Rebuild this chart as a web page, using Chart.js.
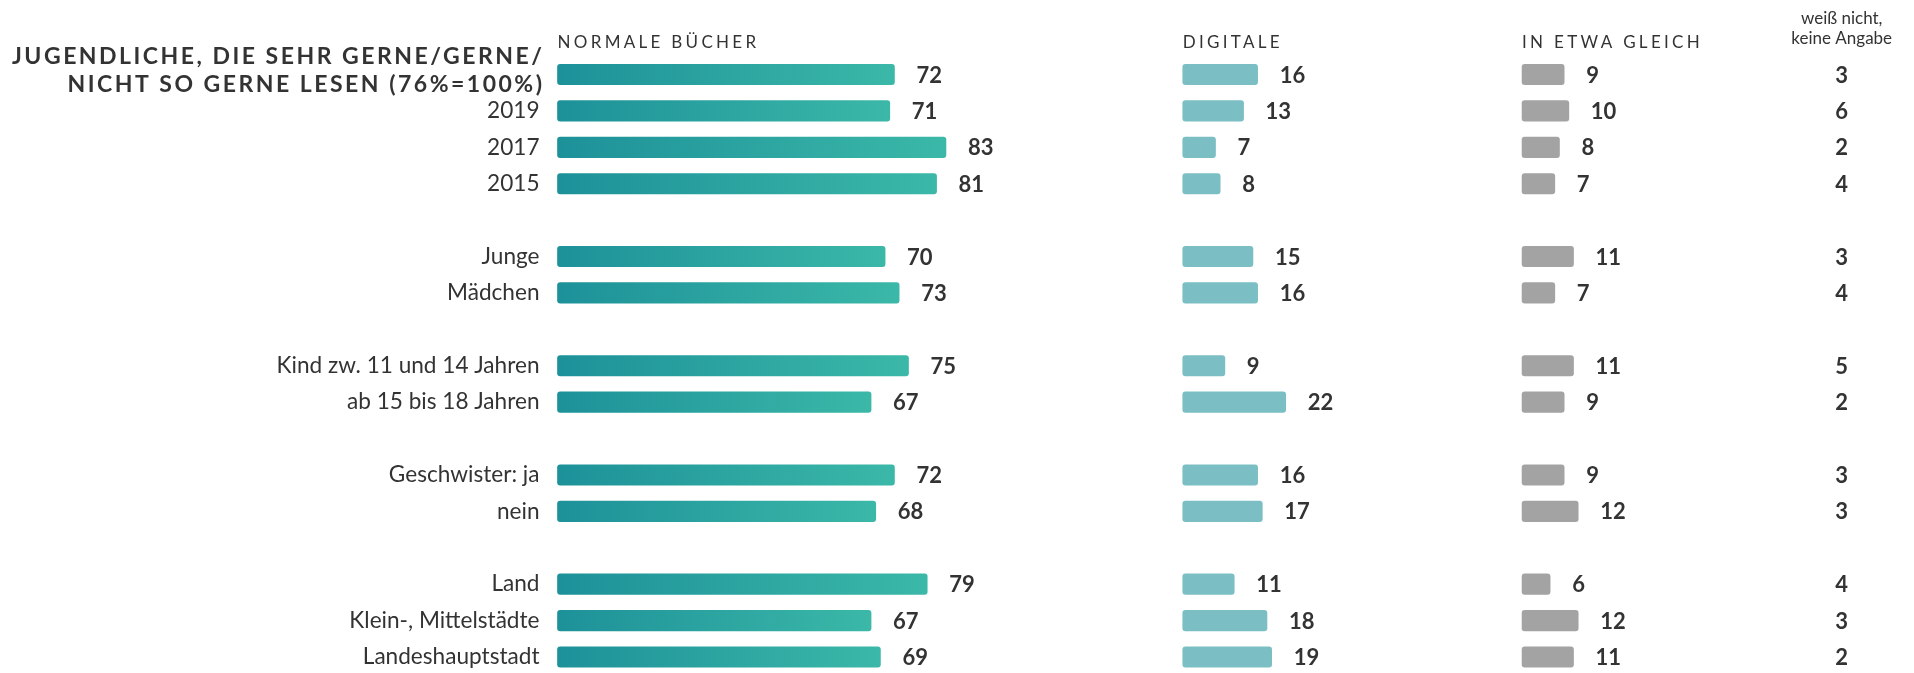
<!DOCTYPE html>
<html>
<head>
<meta charset="utf-8">
<script src="https://cdn.jsdelivr.net/npm/chart.js@4.4.1/dist/chart.umd.min.js"></script>
<style>
  html, body { margin: 0; padding: 0; background: #fff; }
  #wrap { width: 1914px; height: 673px; }
</style>
</head>
<body>
<div id="wrap"><canvas id="c" width="1914" height="673"></canvas></div>
<script>
  // rows ('' = spacer between groups)
  const CATEGORIES = [
    'JUGENDLICHE', '2019', '2017', '2015', '',
    'Junge', 'Mädchen', '',
    'Kind zw. 11 und 14 Jahren', 'ab 15 bis 18 Jahren', '',
    'Geschwister: ja', 'nein', '',
    'Land', 'Klein-, Mittelstädte', 'Landeshauptstadt',
  ];
  const TITLE_LINES = ['JUGENDLICHE, DIE SEHR GERNE/GERNE/', 'NICHT SO GERNE LESEN (76%=100%)'];
  const HEADERS = ['NORMALE BÜCHER', 'DIGITALE', 'IN ETWA GLEICH'];
  const HEADER_LAST = ['weiß nicht,', 'keine Angabe'];

  const BOOKS   = [72, 71, 83, 81, null, 70, 73, null, 75, 67, null, 72, 68, null, 79, 67, 69];
  const DIGITAL = [16, 13,  7,  8, null, 15, 16, null,  9, 22, null, 16, 17, null, 11, 18, 19];
  const SAME    = [ 9, 10,  8,  7, null, 11,  7, null, 11,  9, null,  9, 12, null,  6, 12, 11];
  const UNKNOWN = [ 3,  6,  2,  4, null,  3,  4, null,  5,  2, null,  3,  3, null,  4,  3,  2];

  // column start positions, in value units on the shared x scale
  const COL_START = [0, 133.6, 206.1];
  const COL_LAST = 274.4;
  const X_MAX = 285;

  const COLORS = {
    bookFrom: '#1d9199',
    bookTo:   '#3bb8a8',
    digital:  '#7bbfc4',
    same:     '#a3a3a3',
    text:     '#333333',
  };
  const FONT = 'Lato, "Open Sans", sans-serif';

  function floating(values, start) {
    return values.map(v => (v == null ? null : [start, start + v]));
  }

  function bookGradient(ctx) {
    const chart = ctx.chart;
    const x = chart.scales.x;
    const raw = ctx.raw;
    if (!chart.chartArea || !x || !raw) return COLORS.bookFrom;
    const x0 = x.getPixelForValue(raw[0]);
    const x1 = x.getPixelForValue(raw[1]);
    const g = chart.ctx.createLinearGradient(x0, 0, x1, 0);
    g.addColorStop(0, COLORS.bookFrom);
    g.addColorStop(1, COLORS.bookTo);
    return g;
  }

  const labelsPlugin = {
    id: 'labels',
    afterDatasetsDraw(chart) {
      const ctx = chart.ctx;
      const x = chart.scales.x;
      const y = chart.scales.y;
      const src = [BOOKS, DIGITAL, SAME];
      ctx.save();
      ctx.fillStyle = COLORS.text;
      ctx.font = 'bold 22px ' + FONT;
      ctx.textBaseline = 'middle';
      ctx.textAlign = 'left';
      src.forEach((vals, di) => {
        const meta = chart.getDatasetMeta(di);
        meta.data.forEach((el, i) => {
          if (vals[i] == null) return;
          ctx.fillText(String(vals[i]), el.x + 22, el.y + 1);
        });
      });
      ctx.textAlign = 'center';
      UNKNOWN.forEach((v, i) => {
        if (v == null) return;
        ctx.fillText(String(v), x.getPixelForValue(COL_LAST), y.getPixelForValue(i) + 1);
      });

      // column headers
      ctx.font = '17px ' + FONT;
      ctx.letterSpacing = '3.3px';
      ctx.textAlign = 'left';
      HEADERS.forEach((h, i) => {
        ctx.fillText(h, x.getPixelForValue(COL_START[i]), 43);
      });
      ctx.letterSpacing = '0px';
      ctx.font = '17px ' + FONT;
      ctx.textAlign = 'center';
      ctx.fillText(HEADER_LAST[0], x.getPixelForValue(COL_LAST), 19);
      ctx.fillText(HEADER_LAST[1], x.getPixelForValue(COL_LAST), 39);

      // first row label (title)
      ctx.font = 'bold 23px ' + FONT;
      ctx.letterSpacing = '2.5px';
      ctx.textAlign = 'right';
      const right = y.right - 13;
      ctx.fillText(TITLE_LINES[0], right, 57);
      ctx.fillText(TITLE_LINES[1], right, 85);
      ctx.restore();
    },
  };

  new Chart(document.getElementById('c'), {
    type: 'bar',
    data: {
      labels: CATEGORIES,
      datasets: [
        { label: HEADERS[0], data: floating(BOOKS, COL_START[0]), backgroundColor: bookGradient },
        { label: HEADERS[1], data: floating(DIGITAL, COL_START[1]), backgroundColor: COLORS.digital },
        { label: HEADERS[2], data: floating(SAME, COL_START[2]), backgroundColor: COLORS.same },
      ],
    },
    options: {
      indexAxis: 'y',
      responsive: false,
      animation: false,
      devicePixelRatio: 1,
      layout: { padding: { top: 74.5, bottom: 16, left: 0, right: 22.7 } },
      datasets: {
        bar: { grouped: false, barThickness: 20.5, borderRadius: 3, borderSkipped: false, clip: false },
      },
      plugins: { legend: { display: false }, tooltip: { enabled: false } },
      scales: {
        x: { display: false, min: 0, max: X_MAX },
        y: {
          offset: false,
          grid: { display: false },
          border: { display: false },
          afterFit(scale) {
            scale.width = 557.5;
            scale.paddingTop = 0;
            scale.paddingBottom = 0;
          },
          ticks: {
            padding: 10,
            color: COLORS.text,
            font: { family: FONT, size: 22.6 },
            autoSkip: false,
            callback(value, index) { return index === 0 ? '' : CATEGORIES[index]; },
          },
        },
      },
    },
    plugins: [labelsPlugin],
  });
</script>
</body>
</html>
